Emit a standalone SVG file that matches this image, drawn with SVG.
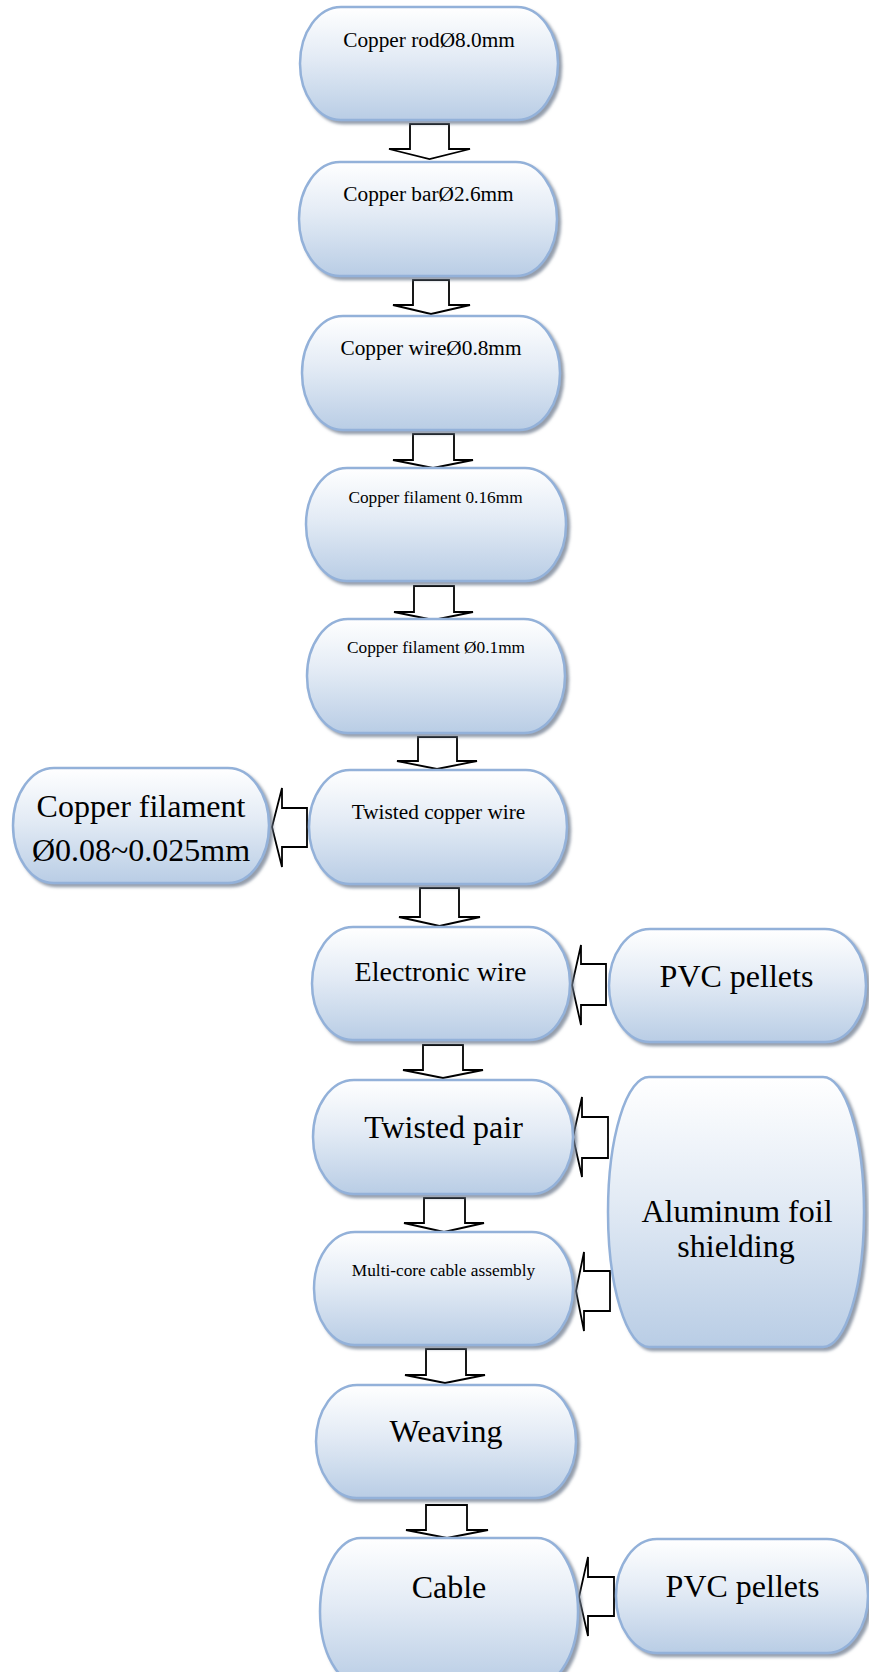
<svg xmlns="http://www.w3.org/2000/svg" width="869" height="1672" viewBox="0 0 869 1672">
  <defs>
    <linearGradient id="fillGrad" x1="0" y1="0" x2="0" y2="1">
      <stop offset="0" stop-color="#ffffff"/>
      <stop offset="0.45" stop-color="#e3ebf5"/>
      <stop offset="1" stop-color="#b9cde5"/>
    </linearGradient>
    <filter id="shadow" x="-10%" y="-10%" width="125%" height="125%">
      <feDropShadow dx="3" dy="3" stdDeviation="1.6" flood-color="#6f7d90" flood-opacity="0.75"/>
    </filter>
  </defs>
  <style>
    .node { fill: url(#fillGrad); stroke: #93b1d9; stroke-width: 2.5; filter: url(#shadow); }
    .arrow { fill: #ffffff; stroke: #000000; stroke-width: 1.8; stroke-linejoin: miter; }
    text { font-family: "Liberation Serif", "Times New Roman", serif; fill: #000000; text-anchor: middle; }
    .s { font-size: 21.3px; }
    .xs { font-size: 17.3px; }
    .m { font-size: 28px; }
    .l { font-size: 32px; }
  </style>

  <rect width="869" height="1672" fill="#ffffff"/>

  <!-- connectors: block arrows -->
  <g id="connectors">
    <!-- vertical flow arrows -->
    <path class="arrow" d="M410,124 H449 V149 H470 L429.5,159 L389,149 H410 Z"/>
    <path class="arrow" d="M413,280 H449 V305 H470 L431,314 L393,305 H413 Z"/>
    <path class="arrow" d="M413,434 H454 V460 H473 L433,468 L393,460 H413 Z"/>
    <path class="arrow" d="M414,586 H454 V612 H473 L433.5,620 L394,612 H414 Z"/>
    <path class="arrow" d="M418,737 H457 V761 H477 L437,769 L397,761 H418 Z"/>
    <path class="arrow" d="M420,888 H459 V917 H480 L439.5,926 L399,917 H420 Z"/>
    <path class="arrow" d="M423,1045 H463 V1070 H483 L443,1078 L403,1070 H423 Z"/>
    <path class="arrow" d="M424,1198 H465 V1223 H484 L444,1232 L404,1223 H424 Z"/>
    <path class="arrow" d="M426,1349 H466 V1375 H485 L445,1383 L405,1375 H426 Z"/>
    <path class="arrow" d="M426,1505 H467 V1530 H488 L447,1538 L406,1530 H426 Z"/>
    <!-- side arrows -->
    <path class="arrow" d="M307,808 V847 H282 V867 L272,827 L282,788 V808 Z"/>
    <path class="arrow" d="M606,964 V1005 H581 V1025 L572,985 L581,945 V964 Z"/>
    <path class="arrow" d="M608,1117 V1158 H582 V1177 L573,1137 L582,1097 V1117 Z"/>
    <path class="arrow" d="M610,1271 V1311 H584 V1331 L576,1291 L584,1252 V1271 Z"/>
    <path class="arrow" d="M614,1577 V1616 H588 V1636 L579,1597 L588,1557 V1577 Z"/>
  </g>

  <g id="copper-rod">
    <rect class="node" x="300" y="7" width="258" height="113" rx="41" ry="56.5"/>
    <text class="s" x="429" y="47">Copper rodØ8.0mm</text>
  </g>
  <g id="copper-bar">
    <rect class="node" x="299" y="162" width="258" height="114" rx="41" ry="57"/>
    <text class="s" x="428.5" y="201">Copper barØ2.6mm</text>
  </g>
  <g id="copper-wire">
    <rect class="node" x="302" y="316" width="258" height="114" rx="41" ry="57"/>
    <text class="s" x="431" y="355">Copper wireØ0.8mm</text>
  </g>
  <g id="copper-filament-016">
    <rect class="node" x="306" y="468" width="260" height="113" rx="41" ry="56.5"/>
    <text class="xs" x="435.5" y="503">Copper filament 0.16mm</text>
  </g>
  <g id="copper-filament-01">
    <rect class="node" x="307" y="619" width="258" height="114" rx="41" ry="57"/>
    <text class="xs" x="436" y="653">Copper filament Ø0.1mm</text>
  </g>
  <g id="twisted-copper-wire">
    <rect class="node" x="309" y="770" width="258" height="114" rx="41" ry="57"/>
    <text class="s" x="438.5" y="819">Twisted copper wire</text>
  </g>
  <g id="copper-filament-fine">
    <rect class="node" x="13" y="768" width="256" height="115" rx="41" ry="57.5"/>
    <text class="l" x="141" y="817">Copper filament</text>
    <text class="l" x="141" y="861">Ø0.08~0.025mm</text>
  </g>
  <g id="electronic-wire">
    <rect class="node" x="312" y="927" width="258" height="113" rx="41" ry="56.5"/>
    <text class="m" x="440.5" y="981">Electronic wire</text>
  </g>
  <g id="pvc-pellets-1">
    <rect class="node" x="609" y="929" width="257" height="113" rx="41" ry="56.5"/>
    <text class="l" x="736.5" y="987">PVC pellets</text>
  </g>
  <g id="twisted-pair">
    <rect class="node" x="313" y="1080" width="260" height="114" rx="41" ry="57"/>
    <text class="l" x="443.5" y="1138">Twisted pair</text>
  </g>
  <g id="aluminum-foil">
    <rect class="node" x="608" y="1077" width="256" height="270" rx="41" ry="135"/>
    <text class="l" x="737" y="1222">Aluminum foil</text>
    <text class="l" x="736" y="1257">shielding</text>
  </g>
  <g id="multi-core">
    <rect class="node" x="314" y="1232" width="259" height="113" rx="41" ry="56.5"/>
    <text class="xs" x="443.5" y="1276">Multi-core cable assembly</text>
  </g>
  <g id="weaving">
    <rect class="node" x="316" y="1385" width="260" height="113" rx="41" ry="56.5"/>
    <text class="l" x="446" y="1442">Weaving</text>
  </g>
  <g id="cable">
    <rect class="node" x="320" y="1538" width="258" height="147" rx="41" ry="73.5"/>
    <text class="l" x="449" y="1598">Cable</text>
  </g>
  <g id="pvc-pellets-2">
    <rect class="node" x="616" y="1539" width="252" height="114" rx="41" ry="57"/>
    <text class="l" x="742.5" y="1597">PVC pellets</text>
  </g>
</svg>
